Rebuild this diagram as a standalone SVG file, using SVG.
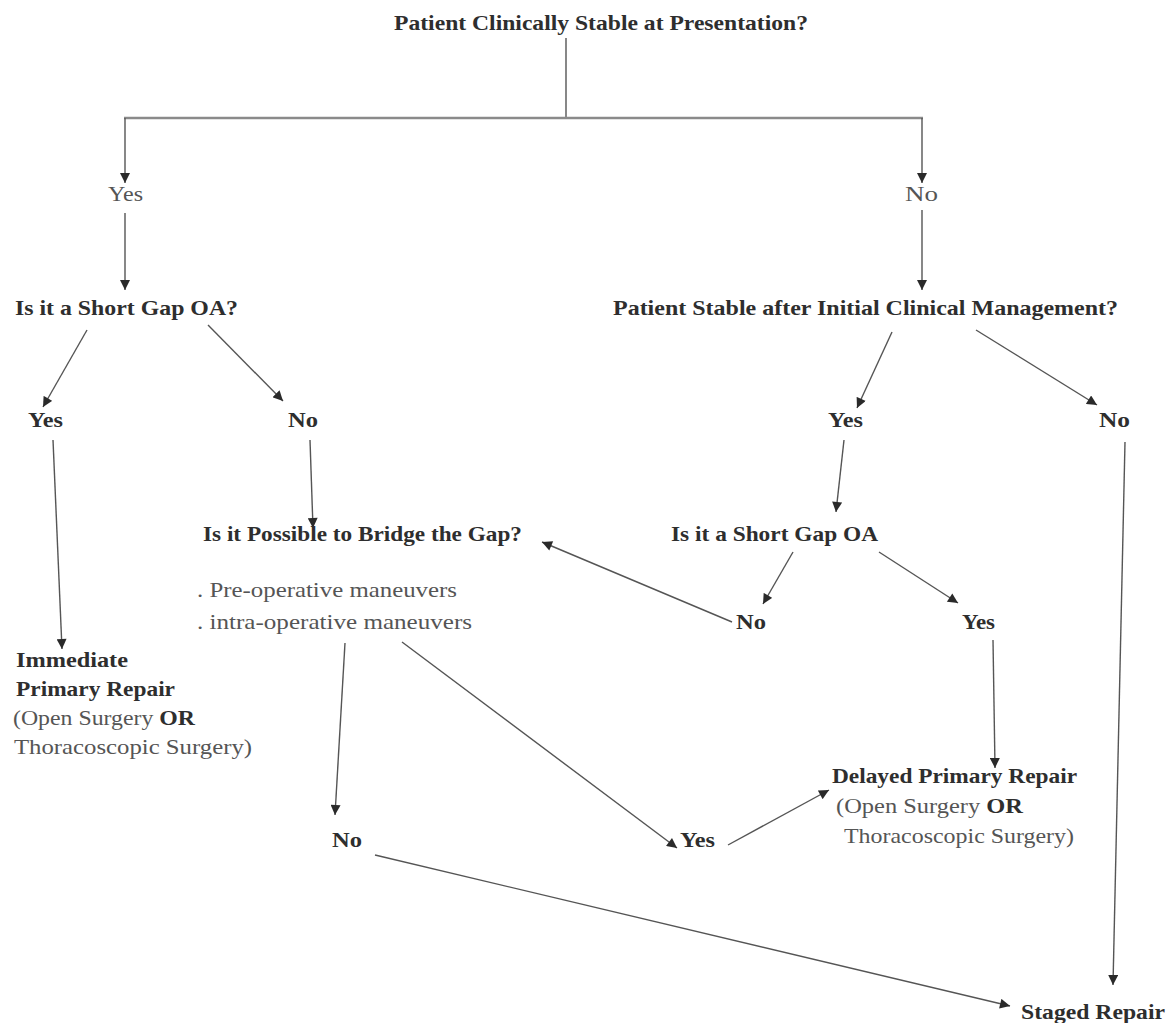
<svg xmlns="http://www.w3.org/2000/svg" width="1171" height="1023" viewBox="0 0 1171 1023">
<style>
text{font-family:"Liberation Serif","Times New Roman",serif;font-size:21px;}
.b{font-weight:bold;fill:#2e2e2e;}
.n{font-weight:normal;fill:#555;}
.c line{stroke:#555;stroke-width:1.4;fill:none;marker-end:url(#ah);}
.c line.plain{marker-end:none;}
.c line.bar{stroke:#8a8a8a;stroke-width:2.6;marker-end:none;}
</style>
<defs>
<marker id="ah" viewBox="0 0 10 10" refX="10" refY="5" markerWidth="11" markerHeight="10" markerUnits="userSpaceOnUse" orient="auto">
<path d="M0,0 L10,5 L0,10 z" fill="#2a2a2a"/>
</marker>
</defs>
<rect width="1171" height="1023" fill="#fff"/>
<g id="connectors" class="c">
<line class="plain" x1="566" y1="38" x2="566" y2="118"/>
<line class="bar" x1="124" y1="118" x2="923" y2="118"/>
<line x1="125" y1="118" x2="125" y2="183"/>
<line x1="922" y1="118" x2="922" y2="183"/>
<line x1="125" y1="213" x2="125" y2="290"/>
<line x1="922" y1="210" x2="922" y2="290"/>
<line x1="87" y1="330" x2="43" y2="407"/>
<line x1="208" y1="325" x2="283" y2="401"/>
<line x1="892" y1="332" x2="857" y2="408"/>
<line x1="976" y1="330" x2="1097" y2="405"/>
<line x1="53" y1="440" x2="62" y2="649"/>
<line x1="310" y1="440" x2="313" y2="528"/>
<line x1="844" y1="440" x2="836" y2="512"/>
<line x1="1125" y1="442" x2="1113" y2="985"/>
<line x1="732" y1="622" x2="542" y2="542"/>
<line x1="793" y1="552" x2="763" y2="604"/>
<line x1="879" y1="552" x2="958" y2="603"/>
<line x1="993" y1="640" x2="995" y2="768"/>
<line x1="345" y1="643" x2="335" y2="815"/>
<line x1="402" y1="642" x2="677" y2="848"/>
<line x1="728" y1="845" x2="829" y2="790"/>
<line x1="375" y1="855" x2="1010" y2="1006"/>
</g>
<g id="n-start"><text class="b" x="394" y="30" textLength="414" lengthAdjust="spacingAndGlyphs">Patient Clinically Stable at Presentation?</text></g>
<g id="n-yes1"><text class="n" x="108" y="201" textLength="35" lengthAdjust="spacingAndGlyphs">Yes</text></g>
<g id="n-no1"><text class="n" x="905" y="201" textLength="33" lengthAdjust="spacingAndGlyphs">No</text></g>
<g id="n-shortgap1"><text class="b" x="15" y="315" textLength="223" lengthAdjust="spacingAndGlyphs">Is it a Short Gap OA?</text></g>
<g id="n-stableafter"><text class="b" x="613" y="315" textLength="505" lengthAdjust="spacingAndGlyphs">Patient Stable after Initial Clinical Management?</text></g>
<g id="n-yes2"><text class="b" x="28" y="427" textLength="35" lengthAdjust="spacingAndGlyphs">Yes</text></g>
<g id="n-no2"><text class="b" x="288" y="427" textLength="30" lengthAdjust="spacingAndGlyphs">No</text></g>
<g id="n-yes3"><text class="b" x="828" y="427" textLength="35" lengthAdjust="spacingAndGlyphs">Yes</text></g>
<g id="n-no3"><text class="b" x="1099" y="427" textLength="31" lengthAdjust="spacingAndGlyphs">No</text></g>
<g id="n-bridge">
<text class="b" x="203" y="541" textLength="319" lengthAdjust="spacingAndGlyphs">Is it Possible to Bridge the Gap?</text>
<text class="n" x="197" y="597" textLength="260" lengthAdjust="spacingAndGlyphs">. Pre-operative maneuvers</text>
<text class="n" x="197" y="629" textLength="275" lengthAdjust="spacingAndGlyphs">. intra-operative maneuvers</text>
</g>
<g id="n-shortgap2"><text class="b" x="671" y="541" textLength="207" lengthAdjust="spacingAndGlyphs">Is it a Short Gap OA</text></g>
<g id="n-no4"><text class="b" x="736" y="629" textLength="30" lengthAdjust="spacingAndGlyphs">No</text></g>
<g id="n-yes4"><text class="b" x="962" y="629" textLength="33" lengthAdjust="spacingAndGlyphs">Yes</text></g>
<g id="n-immediate">
<text class="b" x="16" y="667" textLength="112" lengthAdjust="spacingAndGlyphs">Immediate</text>
<text class="b" x="16" y="696" textLength="159" lengthAdjust="spacingAndGlyphs">Primary Repair</text>
<text class="n" x="13" y="725" textLength="182" lengthAdjust="spacingAndGlyphs">(Open Surgery <tspan class="b">OR</tspan></text>
<text class="n" x="14" y="754" textLength="238" lengthAdjust="spacingAndGlyphs">Thoracoscopic Surgery)</text>
</g>
<g id="n-delayed">
<text class="b" x="832" y="783" textLength="245" lengthAdjust="spacingAndGlyphs">Delayed Primary Repair</text>
<text class="n" x="836" y="813" textLength="187" lengthAdjust="spacingAndGlyphs">(Open Surgery <tspan class="b">OR</tspan></text>
<text class="n" x="844" y="843" textLength="230" lengthAdjust="spacingAndGlyphs">Thoracoscopic Surgery)</text>
</g>
<g id="n-no5"><text class="b" x="332" y="847" textLength="30" lengthAdjust="spacingAndGlyphs">No</text></g>
<g id="n-yes5"><text class="b" x="680" y="847" textLength="35" lengthAdjust="spacingAndGlyphs">Yes</text></g>
<g id="n-staged"><text class="b" x="1021" y="1019" textLength="144" lengthAdjust="spacingAndGlyphs">Staged Repair</text></g>
</svg>
